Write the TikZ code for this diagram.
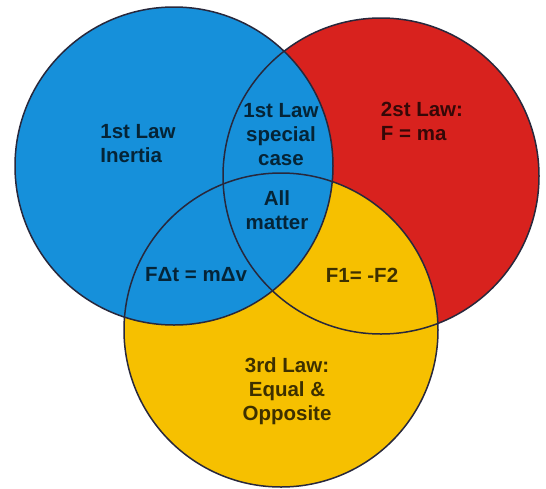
\documentclass[tikz,border=0pt]{standalone}
\usepackage{fontspec}
\setmainfont{Liberation Sans}
\definecolor{lawblue}{RGB}{22,144,218}
\definecolor{lawred}{RGB}{216,34,30}
\definecolor{lawyellow}{RGB}{246,192,0}
\definecolor{rimcolor}{RGB}{40,40,60}

\tikzset{
  lawtext/.style={font=\bfseries\fontsize{20.5}{24}\selectfont, text=black, text opacity=0.75, inner sep=0pt},
  rim/.style={draw=rimcolor, line width=1.5pt}
}

\begin{document}
\begin{tikzpicture}[x=1pt, y=-1pt]
  \useasboundingbox (0,0) rectangle (546,488);
  \fill[white] (0,0) rectangle (546,488);
  % the three laws, blue on top
  \fill[lawred] (381,176) circle (158pt);
  \fill[lawyellow] (281,330) circle (157pt);
  \fill[lawblue] (174,166) circle (159pt);
  \draw[rim] (381,176) circle (158pt);
  \draw[rim] (281,330) circle (157pt);
  \draw[rim] (174,166) circle (159pt);
  % labels
  \node[lawtext, align=left] (inertia) at (138,144) {1st Law\\Inertia};
  \node[lawtext, align=center] (special) at (281,135) {1st Law\\special\\case};
  \node[lawtext, align=left] (secondlaw) at (422,121) {2st Law:\\F = ma};
  \node[lawtext, align=center] (allmatter) at (277,210) {All\\matter};
  \node[lawtext] (impulse) at (196,275) {FΔt = mΔv};
  \node[lawtext] (pairs) at (362,275) {F1= -F2};
  \node[lawtext, align=center] (thirdlaw) at (287,391) {3rd Law:\\Equal \&\\Opposite};
\end{tikzpicture}
\end{document}
